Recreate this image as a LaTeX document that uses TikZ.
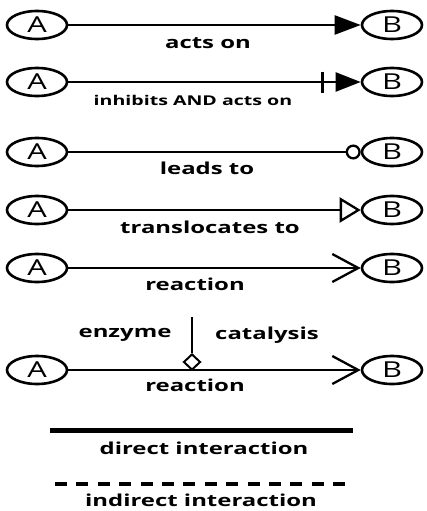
\documentclass[tikz,border=0pt]{standalone}
\usepackage{fontspec}
\setmainfont{Open Sans}
\newfontfamily\labfont{Open Sans}[FakeStretch=1.45]
\newfontfamily\entfont{Open Sans}[FakeStretch=1.4]
\usetikzlibrary{arrows.meta,shapes.geometric}
\tikzset{
  ent/.style={ellipse,draw,line width=2.6pt,minimum width=60pt,minimum height=28pt,inner sep=0pt,font=\entfont\fontsize{22}{22}\selectfont},
  conn/.style={line width=2.3pt},
  lab/.style={inner sep=0pt,font=\labfont\bfseries\fontsize{16.5}{16.5}\selectfont},
  smalllab/.style={inner sep=0pt,font=\labfont\bfseries\fontsize{13.5}{13.5}\selectfont},
}
\begin{document}
\begin{tikzpicture}[x=1pt,y=-1pt]
\useasboundingbox (0,0) rectangle (426,511);
% row 1
\node[ent] (a1) at (37,25) {A};
\node[ent] (b1) at (392,25) {B};
\draw[conn,-{Triangle[length=26pt,width=19pt]}] (a1) -- (b1);
\node[lab] (l1) at (208,43) {acts on};
% row 2
\node[ent] (a2) at (37,82) {A};
\node[ent] (b2) at (392,82) {B};
\draw[conn,-{Bar[width=21pt,sep=12pt] Triangle[length=25pt,width=19pt]}] (a2) -- (b2);
\node[smalllab] (l2) at (193,100) {inhibits AND acts on};
% row 3
\node[ent] (a3) at (37,152) {A};
\node[ent] (b3) at (392,152) {B};
\draw[conn,-{Circle[open,length=15pt]}] (a3) -- (b3);
\node[lab] (l3) at (207,168) {leads to};
% row 4
\node[ent] (a4) at (37,210) {A};
\node[ent] (b4) at (392,210) {B};
\draw[conn,-{Triangle[open,length=21pt,width=25pt]}] (a4) -- (b4);
\node[lab] (l4) at (210,227) {translocates to};
% row 5
\node[ent] (a5) at (37,268) {A};
\node[ent] (b5) at (392,268) {B};
\draw[conn,-{Straight Barb[length=26pt,width=28pt]}] (a5) -- (b5);
\node[lab] (l5) at (195,284) {reaction};
% row 6
\node[ent] (a6) at (37,370) {A};
\node[ent] (b6) at (392,370) {B};
\draw[conn,-{Straight Barb[length=26pt,width=28pt]}] (a6) -- (b6);
\node[lab] (l6) at (195,385) {reaction};
\node[diamond,draw,line width=2pt,minimum width=17pt,minimum height=16pt,inner sep=0pt,fill=white] (d) at (192,362) {};
\coordinate (top) at (192,317);
\draw[conn] (top) -- (d.north);
\node[lab] (enz) at (125,335) {enzyme};
\node[lab] (cat) at (267,335) {catalysis};
% legend
\coordinate (s1) at (50,430);
\coordinate (s2) at (353,430);
\draw[line width=5pt] (s1) -- (s2);
\node[lab] (ld) at (204,448) {direct interaction};
\coordinate (t1) at (55,484);
\coordinate (t2) at (345,484);
\draw[line width=4.5pt,dash pattern=on 12pt off 9.4pt] (t1) -- (t2);
\node[lab] (li) at (201,500) {indirect interaction};
\end{tikzpicture}
\end{document}
